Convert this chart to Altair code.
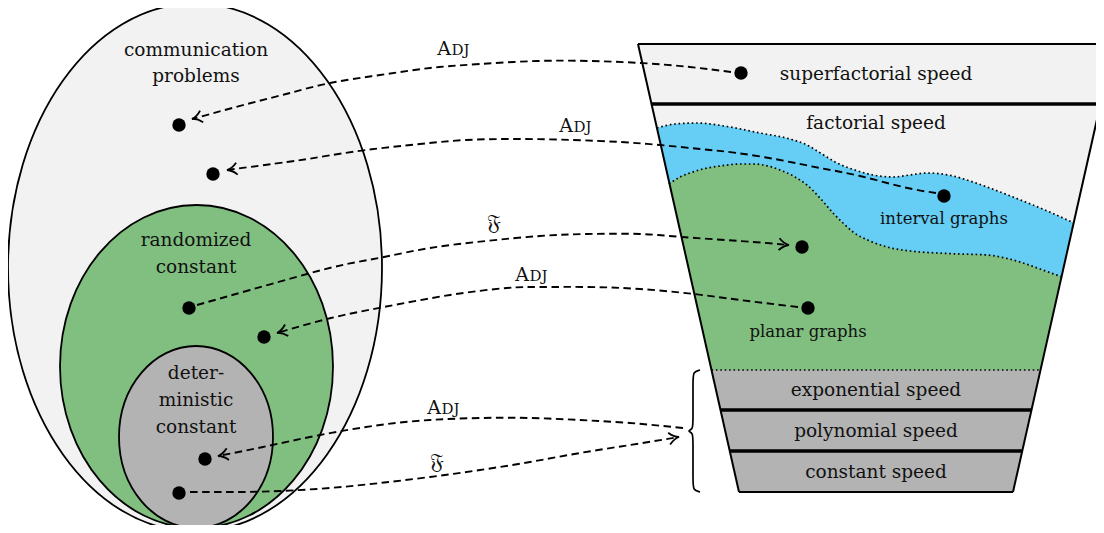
import altair as alt
import pandas as pd
import numpy as np

# ---------------- data (reference pixel coordinates) ----------------
ellipse_cx = [195, 196.5, 196]
ellipse_cy = [267.5, 366.5, 437]
ellipse_rx = [187, 136.5, 77]
ellipse_ry = [264, 161.5, 91]

left_labels = ["communication", "problems", "randomized", "constant", "deter-", "ministic", "constant"]
left_label_x = [196, 196, 196, 196, 196, 196, 196]
left_label_y = [50, 76, 240, 267, 373, 400, 427]

funnel_y = [44, 104, 370, 410, 451, 492]
funnel_left = [638, 651.5, 711.5, 720.5, 729.7, 739]
funnel_right = [1114, 1100.5, 1040.5, 1031.5, 1022.3, 1013]

band_labels = ["superfactorial speed", "factorial speed", "exponential speed", "polynomial speed", "constant speed"]
band_label_x = [876, 876, 876, 876, 876]
band_label_y = [74, 123, 390, 431, 472]

blue_x = [657, 675, 697, 730, 760, 790, 807, 822, 837, 855, 873, 893, 910, 927, 953, 970, 987, 1013, 1045, 1074]
blue_y = [128, 124, 123, 127, 133, 139, 145, 154, 163, 170, 175, 177, 175, 173, 176, 181, 187, 197, 210, 223]
green_x = [669, 680, 690, 703, 720, 740, 753, 768, 780, 795, 807, 820, 833, 843, 853, 870, 887, 910, 937, 960, 987, 1005, 1020, 1040, 1062]
green_y = [184, 177, 173, 169, 166, 164, 164, 166, 170, 177, 185, 198, 213, 223, 232, 241, 247, 251, 253, 254, 255, 258, 262, 269, 277]

graph_labels = ["interval graphs", "planar graphs"]
graph_label_x = [944, 808]
graph_label_y = [219, 332]

dot_x = [179, 213, 189, 264, 205, 179, 741, 944, 802, 808]
dot_y = [125, 174, 308, 337, 459, 493, 73, 196, 247, 308]

arrow1_x = [731, 690, 641, 590, 537, 480, 430, 380, 330, 290, 251, 192]
arrow1_y = [72, 67, 63, 61, 61, 64, 68, 75, 83, 93, 103, 119]
arrow2_x = [936, 903, 860, 820, 780, 737, 700, 660, 620, 573, 520, 466, 420, 366, 320, 287, 227]
arrow2_y = [193, 187, 176, 168, 160, 153, 149, 145, 142, 140, 139, 140, 144, 150, 157, 162, 170]
arrow3_x = [197, 250, 307, 347, 384, 430, 486, 540, 588, 640, 682, 740, 789]
arrow3_y = [305, 290, 274, 264, 257, 248, 241, 236, 234, 234, 237, 241, 245]
arrow4_x = [798, 740, 694, 640, 588, 540, 507, 450, 384, 331, 277]
arrow4_y = [307, 300, 294, 289, 287, 287, 288, 295, 307, 318, 333]
arrow5_x = [683, 630, 580, 530, 480, 430, 380, 320, 263, 218]
arrow5_y = [428, 423, 420, 418, 418, 420, 425, 435, 447, 456]
arrow6_x = [190, 240, 280, 330, 380, 430, 480, 530, 580, 630, 679]
arrow6_y = [492, 492, 491, 488, 483, 477, 470, 462, 453, 445, 437]

adj_left = [438, 560, 516, 428]
adj_y = [48, 125, 274, 407]
frak_x = [494, 437]
frak_y = [223, 462]

brace_x = [700, 693, 693, 693, 693, 687, 693, 693, 693, 693, 700]
brace_y = [370, 372, 380, 422, 429, 431, 433, 440, 482, 490, 492]

# ---------------- helpers ----------------
XS = alt.Scale(domain=[8, 1096], nice=False, zero=False)
YS = alt.Scale(domain=[8, 525], nice=False, zero=False, reverse=True)


def X(f):
    return alt.X(f, type="quantitative", scale=XS, axis=None)


def Y(f):
    return alt.Y(f, type="quantitative", scale=YS, axis=None)


def ellipse_path(k):
    c = 0.5523
    return (f"M -1 0 C -1 {-c*k:.4f} {-c:.4f} {-k:.4f} 0 {-k:.4f} "
            f"C {c:.4f} {-k:.4f} 1 {-c*k:.4f} 1 0 "
            f"C 1 {c*k:.4f} {c:.4f} {k:.4f} 0 {k:.4f} "
            f"C {-c:.4f} {k:.4f} -1 {c*k:.4f} -1 0 Z")


FONT = "DejaVu Serif"
INK = "#111111"
LIGHT = "#f2f2f2"
GREEN = "#80bf80"
BLUE = "#66cdf5"
GRAY = "#b3b3b3"
DOTS = [1.6, 2.8]

layers = []

# ellipses
ell_fill = [LIGHT, GREEN, GRAY]
for i in range(3):
    d = pd.DataFrame({"x": [ellipse_cx[i]], "y": [ellipse_cy[i]]})
    layers.append(
        alt.Chart(d).mark_point(
            shape=ellipse_path(ellipse_ry[i] / ellipse_rx[i]),
            size=(2 * ellipse_rx[i]) ** 2,
            filled=True, fill=ell_fill[i], stroke="black", strokeWidth=1.8,
            opacity=1, fillOpacity=1, strokeOpacity=1,
        ).encode(x=X("x"), y=Y("y"))
    )

# funnel bands
top_band = pd.DataFrame({"y": [funnel_y[0], funnel_y[2]],
                         "xl": [funnel_left[0], funnel_left[2]],
                         "xr": [funnel_right[0], funnel_right[2]]})
bot_band = pd.DataFrame({"y": [funnel_y[2], funnel_y[5]],
                         "xl": [funnel_left[2], funnel_left[5]],
                         "xr": [funnel_right[2], funnel_right[5]]})
for d, col in [(top_band, LIGHT), (bot_band, GRAY)]:
    layers.append(alt.Chart(d).mark_area(orient="horizontal", color=col, opacity=1)
                  .encode(y=Y("y"), x=X("xl"), x2=alt.X2("xr")))

blue_df = pd.DataFrame({"x": blue_x, "y": blue_y})
green_df = pd.DataFrame({"x": green_x, "y": green_y})
layers.append(alt.Chart(blue_df).mark_area(interpolate="monotone", color=BLUE, opacity=1)
              .encode(x=X("x"), y=Y("y"), y2=alt.datum(funnel_y[2])))
layers.append(alt.Chart(green_df).mark_area(interpolate="monotone", color=GREEN, opacity=1)
              .encode(x=X("x"), y=Y("y"), y2=alt.datum(funnel_y[2])))

# white masks outside the funnel sides
lmask = pd.DataFrame({"y": [funnel_y[1], funnel_y[2]],
                      "xo": [600, 600],
                      "xe": [funnel_left[1], funnel_left[2]]})
rmask = pd.DataFrame({"y": [funnel_y[1], funnel_y[2]],
                      "xo": [1130, 1130],
                      "xe": [funnel_right[1], funnel_right[2]]})
for d in [lmask, rmask]:
    layers.append(alt.Chart(d).mark_area(orient="horizontal", color="white", opacity=1)
                  .encode(y=Y("y"), x=X("xo"), x2=alt.X2("xe")))

# dotted boundaries
for d in [blue_df, green_df]:
    layers.append(alt.Chart(d).mark_line(interpolate="monotone", color="black",
                                         strokeWidth=1.7, strokeDash=DOTS)
                  .encode(x=X("x"), y=Y("y")))

rules = pd.DataFrame({"y": funnel_y, "xl": funnel_left, "xr": funnel_right,
                      "w": [2, 3.6, 1.7, 3.6, 3.6, 2]})
solid = rules[rules.index != 2]
dotted = rules[rules.index == 2]
layers.append(alt.Chart(solid).mark_rule(color="black")
              .encode(y=Y("y"), x=X("xl"), x2=alt.X2("xr"),
                      strokeWidth=alt.StrokeWidth("w:Q", scale=None)))
layers.append(alt.Chart(dotted).mark_rule(color="black", strokeWidth=1.7, strokeDash=DOTS)
              .encode(y=Y("y"), x=X("xl"), x2=alt.X2("xr")))
edges = pd.DataFrame({"x": [funnel_left[0], funnel_right[0]], "y": [funnel_y[0]] * 2,
                      "x2": [funnel_left[5], funnel_right[5]], "y2": [funnel_y[5]] * 2})
layers.append(alt.Chart(edges).mark_rule(color="black", strokeWidth=2)
              .encode(x=X("x"), y=Y("y"), x2=alt.X2("x2"), y2=alt.Y2("y2")))

# texts
def text_layer(texts, xs, ys, size, align="center", baseline="middle"):
    d = pd.DataFrame({"t": texts, "x": xs, "y": ys})
    return alt.Chart(d).mark_text(font=FONT, fontSize=size, align=align,
                                  baseline=baseline, color=INK).encode(
        x=X("x"), y=Y("y"), text="t:N")

layers.append(text_layer(left_labels, left_label_x, left_label_y, 18.5))
layers.append(text_layer(band_labels, band_label_x, band_label_y, 18.5))
layers.append(text_layer(graph_labels, graph_label_x, graph_label_y, 16.5))

adj_anchor = [v + 13 for v in adj_left]
adj_base = [v + 7 for v in adj_y]
layers.append(text_layer(["A"] * 4, adj_anchor, adj_base, 19, align="right", baseline="alphabetic"))
layers.append(text_layer(["DJ"] * 4, [v + 0.5 for v in adj_anchor], adj_base, 15, align="left", baseline="alphabetic"))
layers.append(text_layer(["\U0001D509"] * 2, frak_x, frak_y, 22))

# arrows
arrows = [(arrow1_x, arrow1_y), (arrow2_x, arrow2_y), (arrow3_x, arrow3_y),
          (arrow4_x, arrow4_y), (arrow5_x, arrow5_y), (arrow6_x, arrow6_y)]
rows = []
heads = []
for a, (xs, ys) in enumerate(arrows):
    for i, (xx, yy) in enumerate(zip(xs, ys)):
        rows.append({"arrow": a, "i": i, "x": xx, "y": yy})
    dx = xs[-1] - xs[-2]
    dy = ys[-1] - ys[-2]
    ang = float(np.degrees(np.arctan2(dy, dx))) % 360
    heads.append({"x": xs[-1], "y": ys[-1], "angle": ang})
arrow_df = pd.DataFrame(rows)
head_df = pd.DataFrame(heads)

layers.append(alt.Chart(arrow_df).mark_line(interpolate="natural", color="black",
                                            strokeWidth=1.9, strokeDash=[7.5, 4.5])
              .encode(x=X("x"), y=Y("y"), detail="arrow:N", order="i:Q"))

HEAD = "M -5 -3 C -3.4 -1.3 -1.6 -0.3 0 0 C -1.6 0.3 -3.4 1.3 -5 3"
layers.append(alt.Chart(head_df).mark_point(shape=HEAD, size=16, filled=False,
                                            stroke="black", strokeWidth=1.8, opacity=1)
              .encode(x=X("x"), y=Y("y"), angle=alt.Angle("angle:Q", scale=None)))

# brace
brace_df = pd.DataFrame({"x": brace_x, "y": brace_y, "i": list(range(len(brace_x)))})
layers.append(alt.Chart(brace_df).mark_line(interpolate="basis", color="black", strokeWidth=1.7)
              .encode(x=X("x"), y=Y("y"), order="i:Q"))

# dots
dot_df = pd.DataFrame({"x": dot_x, "y": dot_y})
layers.append(alt.Chart(dot_df).mark_circle(size=180, color="black", opacity=1)
              .encode(x=X("x"), y=Y("y")))

chart = alt.layer(*layers).properties(
    width=1088, height=517, padding=0,
    autosize=alt.AutoSizeParams(type="none"),
    background="white",
).configure_view(stroke=None)

chart.save("out.html", embed_options={"renderer": "svg", "actions": False})
